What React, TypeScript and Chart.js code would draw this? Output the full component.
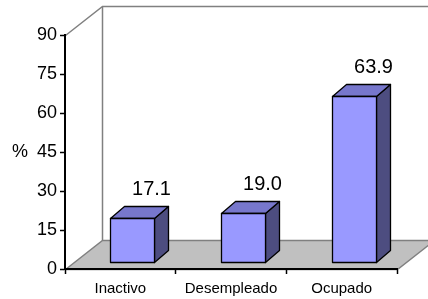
import React, { useEffect, useRef } from 'react';
import { Chart, registerables } from 'chart.js';

Chart.register(...registerables);

// ---- data ----
const categories = ['Inactivo', 'Desempleado', 'Ocupado'];
const values = [17.1, 19.0, 63.9];
const valueLabels = ['17.1', '19.0', '63.9'];
const yMin = 0;
const yMax = 90;
const yStep = 15;
const yAxisTitle = '%';

// ---- styling ----
const FONT = '"Liberation Sans", Arial, Helvetica, sans-serif';
const FLOOR_DX = 37;
const FLOOR_DY = 29;
const BAR_OFF_X = 12;
const BAR_OFF_Y = 7;
const BAR_DEPTH_X = 14;
const BAR_DEPTH_Y = 12;
const FRONT = '#9999ff';
const TOP = '#7777cc';
const SIDE = '#4d4d80';

const threeD = {
  id: 'threeD',
  beforeDraw(chart: any) {
    const { ctx, chartArea: a } = chart;
    const L = Math.round(a.left) + 0.5;
    const R = Math.round(a.right) + 0.5;
    const T = Math.round(a.top) + 0.5;
    const B = Math.round(a.bottom) + 0.5;
    ctx.save();
    ctx.fillStyle = '#ffffff';
    ctx.fillRect(0, 0, chart.width, chart.height);
    // floor
    ctx.beginPath();
    ctx.moveTo(L, B);
    ctx.lineTo(L + FLOOR_DX, B - FLOOR_DY);
    ctx.lineTo(R + FLOOR_DX, B - FLOOR_DY);
    ctx.lineTo(R, B);
    ctx.closePath();
    ctx.fillStyle = '#c0c0c0';
    ctx.fill();
    ctx.strokeStyle = '#808080';
    ctx.lineWidth = 1.5;
    ctx.stroke();
    // walls
    ctx.beginPath();
    ctx.moveTo(L, T);
    ctx.lineTo(L + FLOOR_DX, T - FLOOR_DY);
    ctx.lineTo(R + FLOOR_DX, T - FLOOR_DY);
    ctx.moveTo(L + FLOOR_DX, T - FLOOR_DY);
    ctx.lineTo(L + FLOOR_DX, B - FLOOR_DY);
    ctx.stroke();
    // axis title (horizontal)
    ctx.fillStyle = '#000';
    ctx.font = `18px ${FONT}`;
    ctx.textAlign = 'center';
    ctx.textBaseline = 'middle';
    ctx.fillText(yAxisTitle, 20, (a.top + a.bottom) / 2);
    ctx.restore();
  },
  afterDatasetsDraw(chart: any) {
    const { ctx } = chart;
    const meta = chart.getDatasetMeta(0);
    ctx.save();
    ctx.lineWidth = 1.3;
    ctx.strokeStyle = '#000';
    ctx.lineJoin = 'round';
    meta.data.forEach((bar: any, i: number) => {
      const { x, y, base, width } = bar.getProps(['x', 'y', 'base', 'width'], true);
      const x0 = Math.round(x - width / 2 + BAR_OFF_X) + 0.5;
      const x1 = Math.round(x + width / 2 + BAR_OFF_X) + 0.5;
      const yt = Math.round(y - BAR_OFF_Y) + 0.5;
      const yb = Math.round(base - BAR_OFF_Y) + 0.5;
      // side
      ctx.beginPath();
      ctx.moveTo(x1, yt);
      ctx.lineTo(x1 + BAR_DEPTH_X, yt - BAR_DEPTH_Y);
      ctx.lineTo(x1 + BAR_DEPTH_X, yb - BAR_DEPTH_Y);
      ctx.lineTo(x1, yb);
      ctx.closePath();
      ctx.fillStyle = SIDE;
      ctx.fill();
      ctx.stroke();
      // top
      ctx.beginPath();
      ctx.moveTo(x0, yt);
      ctx.lineTo(x0 + BAR_DEPTH_X, yt - BAR_DEPTH_Y);
      ctx.lineTo(x1 + BAR_DEPTH_X, yt - BAR_DEPTH_Y);
      ctx.lineTo(x1, yt);
      ctx.closePath();
      ctx.fillStyle = TOP;
      ctx.fill();
      ctx.stroke();
      // front
      ctx.beginPath();
      ctx.rect(x0, yt, x1 - x0, yb - yt);
      ctx.fillStyle = FRONT;
      ctx.fill();
      ctx.stroke();
      // value label
      ctx.fillStyle = '#000';
      ctx.font = `20px ${FONT}`;
      ctx.textAlign = 'center';
      ctx.textBaseline = 'middle';
      ctx.fillText(valueLabels[i], (x0 + x1) / 2 + 19, yt - 29);
    });
    ctx.restore();
  },
};

export default function App() {
  const canvasRef = useRef<HTMLCanvasElement | null>(null);

  useEffect(() => {
    document.body.style.margin = '0';
    const canvas = canvasRef.current;
    if (!canvas) return;
    const chart = new Chart(canvas, {
      type: 'bar',
      data: {
        labels: categories,
        datasets: [
          {
            data: values,
            backgroundColor: 'rgba(0,0,0,0)',
            borderWidth: 0,
            categoryPercentage: 1,
            barPercentage: 0.4,
          },
        ],
      },
      options: {
        responsive: false,
        animation: false,
        devicePixelRatio: 1,
        layout: { padding: { top: 35, right: 31, left: 0, bottom: 0 } },
        plugins: {
          legend: { display: false },
          tooltip: { enabled: false },
          title: { display: false },
        },
        scales: {
          x: {
            type: 'category',
            offset: true,
            grid: {
              display: true,
              drawOnChartArea: false,
              drawTicks: true,
              tickLength: 5,
              color: '#000',
              offset: true,
              tickWidth: 1.5,
            },
            border: { display: true, color: '#000', width: 2 },
            ticks: {
              color: '#000',
              font: { family: FONT, size: 15 },
              padding: 6,
              maxRotation: 0,
            },
            afterFit: (s: any) => {
              s.height = 30;
            },
          },
          y: {
            type: 'linear',
            min: yMin,
            max: yMax,
            ticks: {
              stepSize: yStep,
              color: '#000',
              font: { family: FONT, size: 18 },
              padding: 3,
            },
            grid: {
              display: true,
              drawOnChartArea: false,
              drawTicks: true,
              tickLength: 5,
              color: '#000',
              tickWidth: 1.5,
            },
            border: { display: true, color: '#000', width: 2 },
            afterFit: (s: any) => {
              s.width = 65;
            },
          },
        },
      },
      plugins: [threeD],
    });
    return () => chart.destroy();
  }, []);

  return (
    <div style={{ position: 'absolute', left: 0, top: 0, width: 428, height: 299 }}>
      <canvas ref={canvasRef} width={428} height={299} style={{ display: 'block', width: 428, height: 299 }} />
    </div>
  );
}
